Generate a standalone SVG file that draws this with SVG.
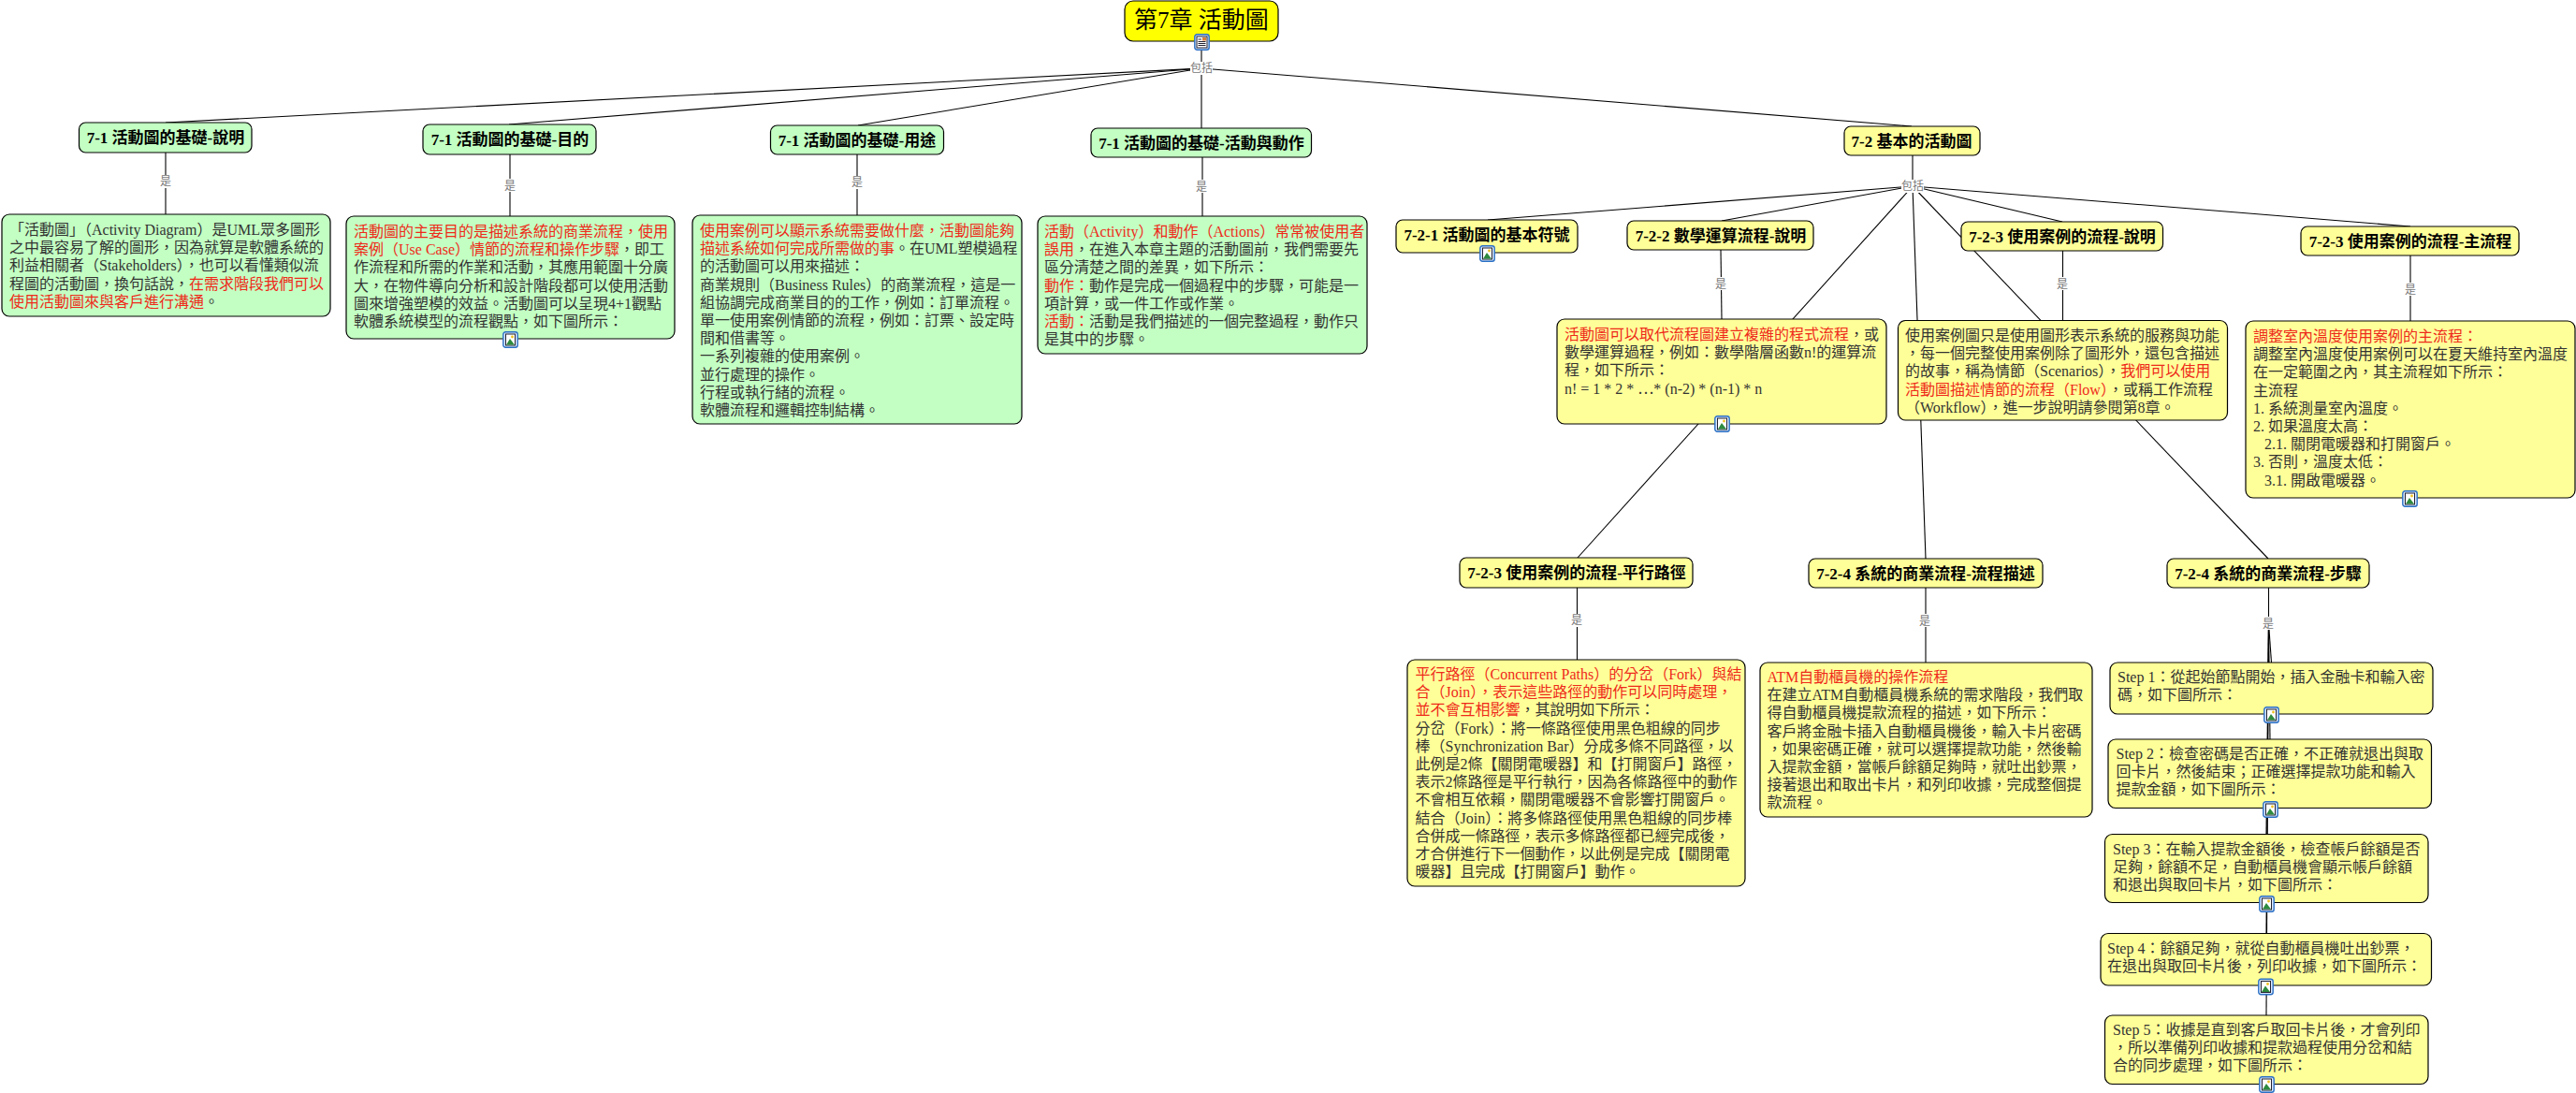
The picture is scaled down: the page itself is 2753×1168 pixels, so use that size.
<svg xmlns="http://www.w3.org/2000/svg" width="2753" height="1168" viewBox="0 0 2753 1168">
<style>
text{font-family:"Liberation Serif","Noto Sans CJK TC",serif}
.box{stroke:#000;stroke-width:1.2}
.g{fill:#c3ffc3}.y{fill:#ffff99}.m{fill:#ffff00}
.t{font-size:17px;font-weight:bold;fill:#000;text-anchor:middle}
.mt{font-size:25px;fill:#000;text-anchor:middle}
.b{font-size:16px;fill:#333}
.r{fill:#ee2a1a}
.c line{stroke:#000;stroke-width:1.1}
.lb{fill:#fff}
.l{font-size:12px;fill:#777;text-anchor:middle}
</style>
<defs>
<g id="pic">
<rect x="0.8" y="0.8" width="15.4" height="16.4" rx="2.5" fill="#dbe9fb" stroke="#2a6fc4" stroke-width="1.4"/>
<rect x="3.500" y="3" width="10" height="12" fill="#fff" stroke="#223"/>
<path d="M4 14.500 L8 8 L13 14.500Z" fill="#2d8a3e"/>
<circle cx="10.500" cy="6" r="1.400" fill="#f0c020"/>
</g>
<g id="doc">
<rect x="0.8" y="0.8" width="15.4" height="16.4" rx="2.5" fill="#dbe9fb" stroke="#2a6fc4" stroke-width="1.4"/>
<rect x="3" y="3" width="11" height="12" fill="#fff" stroke="#223"/>
<path d="M4.500 6H8M4.500 8.500H12.500M4.500 10.500H12.500M4.500 12.500H12.500" stroke="#223" stroke-width="1"/>
<rect x="9" y="4" width="4" height="3.500" fill="#d9803a"/>
</g>
</defs>
<g id="connectors" class="c">
<line x1="1284" y1="45" x2="1284" y2="137"/>
<line x1="1284" y1="73" x2="177" y2="131"/>
<line x1="1284" y1="73" x2="544" y2="133"/>
<line x1="1284" y1="73" x2="917" y2="134"/>
<line x1="1284" y1="73" x2="2043" y2="135"/>
<line x1="177" y1="163" x2="177" y2="229"/>
<line x1="545" y1="165" x2="545" y2="231"/>
<line x1="916" y1="165" x2="916" y2="230"/>
<line x1="1285" y1="168" x2="1285" y2="231"/>
<line x1="2044" y1="166" x2="2044" y2="199"/>
<line x1="2044" y1="199" x2="1590" y2="235"/>
<line x1="2044" y1="199" x2="1840" y2="236"/>
<line x1="2044" y1="199" x2="1686" y2="596"/>
<line x1="2044" y1="199" x2="2058" y2="597"/>
<line x1="2044" y1="199" x2="2424" y2="597"/>
<line x1="2044" y1="199" x2="2204" y2="237"/>
<line x1="2044" y1="199" x2="2576" y2="242"/>
<line x1="1839" y1="267" x2="1840" y2="341"/>
<line x1="2204.500" y1="268" x2="2204.500" y2="343"/>
<line x1="2576" y1="273" x2="2576" y2="343"/>
<line x1="1685.500" y1="628" x2="1685.500" y2="705"/>
<line x1="2058" y1="628" x2="2058" y2="708"/>
<line x1="2424.500" y1="628" x2="2424.500" y2="666"/>
<line x1="2424.500" y1="666" x2="2427.500" y2="708"/>
<line x1="2424.500" y1="666" x2="2426" y2="790"/>
<line x1="2424.500" y1="666" x2="2422" y2="891"/>
<line x1="2424.500" y1="666" x2="2422" y2="998"/>
<line x1="2424.500" y1="666" x2="2422" y2="1085"/>
<g id="edge-labels">
<rect class="lb" x="1272" y="66" width="24" height="14"/><text class="l" x="1284" y="77">包括</text>
<rect class="lb" x="171" y="187" width="12" height="14"/><text class="l" x="177" y="198">是</text>
<rect class="lb" x="539" y="191" width="12" height="14"/><text class="l" x="545" y="203">是</text>
<rect class="lb" x="910" y="188" width="12" height="14"/><text class="l" x="916" y="199">是</text>
<rect class="lb" x="1279" y="192" width="12" height="14"/><text class="l" x="1284" y="204">是</text>
<rect class="lb" x="2032" y="192" width="24" height="14"/><text class="l" x="2044" y="203">包括</text>
<rect class="lb" x="1833" y="296" width="12" height="14"/><text class="l" x="1839" y="308">是</text>
<rect class="lb" x="2198" y="296" width="12" height="14"/><text class="l" x="2204" y="308">是</text>
<rect class="lb" x="2570" y="302" width="12" height="14"/><text class="l" x="2576" y="314">是</text>
<rect class="lb" x="1679" y="656" width="12" height="14"/><text class="l" x="1685" y="667">是</text>
<rect class="lb" x="2051" y="656" width="12" height="14"/><text class="l" x="2057" y="668">是</text>
<rect class="lb" x="2418" y="659" width="12" height="14"/><text class="l" x="2424" y="671">是</text>
</g>
</g>
<g id="n-main"><rect class="box m" x="1202" y="1" width="164" height="43" rx="9"/><text class="mt" x="1284" y="30">第7章 活動圖</text><use href="#doc" x="1276" y="36"/></g>
<g id="n71a"><rect class="box g" x="84.500" y="131" width="184.500" height="32" rx="7"/><text class="t" x="177" y="153">7-1 活動圖的基礎-說明</text></g>
<g id="n71b"><rect class="box g" x="452" y="133" width="185" height="32" rx="7"/><text class="t" x="545" y="155">7-1 活動圖的基礎-目的</text></g>
<g id="n71c"><rect class="box g" x="823.500" y="134" width="185" height="31" rx="7"/><text class="t" x="916" y="156">7-1 活動圖的基礎-用途</text></g>
<g id="n71d"><rect class="box g" x="1166" y="137" width="235.500" height="31" rx="7"/><text class="t" x="1284" y="159">7-1 活動圖的基礎-活動與動作</text></g>
<g id="n72"><rect class="box y" x="1971" y="135" width="145" height="31" rx="7"/><text class="t" x="2043" y="157">7-2 基本的活動圖</text></g>
<g id="n721"><rect class="box y" x="1492" y="235" width="194" height="35" rx="7"/><text class="t" x="1589" y="257">7-2-1 活動圖的基本符號</text><use href="#pic" x="1581" y="262"/></g>
<g id="n722"><rect class="box y" x="1739" y="236" width="199" height="31" rx="7"/><text class="t" x="1839" y="258">7-2-2 數學運算流程-說明</text></g>
<g id="n723a"><rect class="box y" x="2096" y="237" width="215.500" height="31" rx="7"/><text class="t" x="2204" y="259">7-2-3 使用案例的流程-說明</text></g>
<g id="n723b"><rect class="box y" x="2459" y="242" width="233" height="31" rx="7"/><text class="t" x="2576" y="264">7-2-3 使用案例的流程-主流程</text></g>
<g id="n723c"><rect class="box y" x="1560" y="596" width="249" height="32" rx="7"/><text class="t" x="1685" y="618">7-2-3 使用案例的流程-平行路徑</text></g>
<g id="n724a"><rect class="box y" x="1933" y="597" width="250" height="31" rx="7"/><text class="t" x="2058" y="619">7-2-4 系統的商業流程-流程描述</text></g>
<g id="n724b"><rect class="box y" x="2316" y="597" width="216" height="31" rx="7"/><text class="t" x="2424" y="619">7-2-4 系統的商業流程-步驟</text></g>

<g id="d71a"><rect class="box g" x="2" y="229" width="351" height="109" rx="8"/>
<text class="b" x="10" y="251">「活動圖」（Activity Diagram）是UML眾多圖形<tspan x="10" dy="19.2">之中最容易了解的圖形，因為就算是軟體系統的</tspan><tspan x="10" dy="19.2">利益相關者（Stakeholders），也可以看懂類似流</tspan><tspan x="10" dy="19.2">程圖的活動圖，換句話說，<tspan class="r">在需求階段我們可以</tspan></tspan><tspan x="10" dy="19.2"><tspan class="r">使用活動圖來與客戶進行溝通</tspan>。</tspan></text></g>
<g id="d71b"><rect class="box g" x="370" y="231" width="351" height="131" rx="8"/>
<text class="b" x="378" y="253"><tspan class="r">活動圖的主要目的是描述系統的商業流程，使用</tspan><tspan x="378" dy="19.2"><tspan class="r">案例（Use Case）情節的流程和操作步驟</tspan>，即工</tspan><tspan x="378" dy="19.2">作流程和所需的作業和活動，其應用範圍十分廣</tspan><tspan x="378" dy="19.2">大，在物件導向分析和設計階段都可以使用活動</tspan><tspan x="378" dy="19.2">圖來增強塑模的效益。活動圖可以呈現4+1觀點</tspan><tspan x="378" dy="19.2">軟體系統模型的流程觀點，如下圖所示：</tspan></text><use href="#pic" x="537" y="354"/></g>
<g id="d71c"><rect class="box g" x="740" y="230" width="352" height="223" rx="8"/>
<text class="b" x="748" y="252"><tspan class="r">使用案例可以顯示系統需要做什麼，活動圖能夠</tspan><tspan x="748" dy="19.2"><tspan class="r">描述系統如何完成所需做的事</tspan>。在UML塑模過程</tspan><tspan x="748" dy="19.2">的活動圖可以用來描述：</tspan><tspan x="748" dy="19.2">商業規則（Business Rules）的商業流程，這是一</tspan><tspan x="748" dy="19.2">組協調完成商業目的的工作，例如：訂單流程。</tspan><tspan x="748" dy="19.2">單一使用案例情節的流程，例如：訂票、設定時</tspan><tspan x="748" dy="19.2">間和借書等。</tspan><tspan x="748" dy="19.2">一系列複雜的使用案例。</tspan><tspan x="748" dy="19.2">並行處理的操作。</tspan><tspan x="748" dy="19.2">行程或執行緒的流程。</tspan><tspan x="748" dy="19.2">軟體流程和邏輯控制結構。</tspan></text></g>
<g id="d71d"><rect class="box g" x="1109" y="231" width="352" height="147" rx="8"/>
<text class="b" x="1116" y="253"><tspan class="r">活動（Activity）和動作（Actions）常常被使用者</tspan><tspan x="1116" dy="19.2"><tspan class="r">誤用</tspan>，在進入本章主題的活動圖前，我們需要先</tspan><tspan x="1116" dy="19.2">區分清楚之間的差異，如下所示：</tspan><tspan x="1116" dy="19.2"><tspan class="r">動作：</tspan>動作是完成一個過程中的步驟，可能是一</tspan><tspan x="1116" dy="19.2">項計算，或一件工作或作業。</tspan><tspan x="1116" dy="19.2"><tspan class="r">活動：</tspan>活動是我們描述的一個完整過程，動作只</tspan><tspan x="1116" dy="19.2">是其中的步驟。</tspan></text></g>
<g id="d722"><rect class="box y" x="1664" y="341" width="352" height="112" rx="8"/>
<text class="b" x="1672" y="363"><tspan class="r">活動圖可以取代流程圖建立複雜的程式流程</tspan>，或<tspan x="1672" dy="19.2">數學運算過程，例如：數學階層函數n!的運算流</tspan><tspan x="1672" dy="19.2">程，如下所示：</tspan><tspan x="1672" dy="19.2">n! = 1 * 2 * <tspan style="font-family:'Noto Sans CJK TC',sans-serif">…</tspan>* (n-2) * (n-1) * n</tspan></text><use href="#pic" x="1832" y="444"/></g>
<g id="d723a"><rect class="box y" x="2028.500" y="342.500" width="352" height="106.500" rx="8"/>
<text class="b" x="2036" y="364"><tspan>使用案例圖只是使用圖形表示系統的服務與功能</tspan><tspan x="2036" dy="19.2">，每一個完整使用案例除了圖形外，還包含描述</tspan><tspan x="2036" dy="19.2">的故事，稱為情節（Scenarios），<tspan class="r">我們可以使用</tspan></tspan><tspan x="2036" dy="19.2"><tspan class="r">活動圖描述情節的流程（Flow）</tspan>，或稱工作流程</tspan><tspan x="2036" dy="19.2">（Workflow），進一步說明請參閱第8章。</tspan></text></g>
<g id="d723b"><rect class="box y" x="2400" y="343" width="352" height="189" rx="8"/>
<text class="b" x="2408" y="365"><tspan class="r">調整室內溫度使用案例的主流程：</tspan><tspan x="2408" dy="19.2">調整室內溫度使用案例可以在夏天維持室內溫度</tspan><tspan x="2408" dy="19.2">在一定範圍之內，其主流程如下所示：</tspan><tspan x="2408" dy="19.2">主流程</tspan><tspan x="2408" dy="19.2">1. 系統測量室內溫度。</tspan><tspan x="2408" dy="19.2">2. 如果溫度太高：</tspan><tspan x="2420" dy="19.2">2.1. 關閉電暖器和打開窗戶。</tspan><tspan x="2408" dy="19.2">3. 否則，溫度太低：</tspan><tspan x="2420" dy="19.2">3.1. 開啟電暖器。</tspan></text><use href="#pic" x="2567" y="524"/></g>
<g id="d723c"><rect class="box y" x="1504" y="705" width="361" height="242" rx="8"/>
<text class="b" x="1512.500" y="726"><tspan class="r">平行路徑（Concurrent Paths）的分岔（Fork）與結</tspan><tspan x="1512.500" dy="19.2"><tspan class="r">合（Join），表示這些路徑的動作可以同時處理，</tspan></tspan><tspan x="1512.500" dy="19.2"><tspan class="r">並不會互相影響</tspan>，其說明如下所示：</tspan><tspan x="1512.500" dy="19.2">分岔（Fork）：將一條路徑使用黑色粗線的同步</tspan><tspan x="1512.500" dy="19.2">棒（Synchronization Bar）分成多條不同路徑，以</tspan><tspan x="1512.500" dy="19.2">此例是2條【關閉電暖器】和【打開窗戶】路徑，</tspan><tspan x="1512.500" dy="19.2">表示2條路徑是平行執行，因為各條路徑中的動作</tspan><tspan x="1512.500" dy="19.2">不會相互依賴，關閉電暖器不會影響打開窗戶。</tspan><tspan x="1512.500" dy="19.2">結合（Join）：將多條路徑使用黑色粗線的同步棒</tspan><tspan x="1512.500" dy="19.2">合併成一條路徑，表示多條路徑都已經完成後，</tspan><tspan x="1512.500" dy="19.2">才合併進行下一個動作，以此例是完成【關閉電</tspan><tspan x="1512.500" dy="19.2">暖器】且完成【打開窗戶】動作。</tspan></text></g>
<g id="d724a"><rect class="box y" x="1881" y="708" width="355" height="165" rx="8"/>
<text class="b" x="1888.500" y="729"><tspan class="r">ATM自動櫃員機的操作流程</tspan><tspan x="1888.500" dy="19.2">在建立ATM自動櫃員機系統的需求階段，我們取</tspan><tspan x="1888.500" dy="19.2">得自動櫃員機提款流程的描述，如下所示：</tspan><tspan x="1888.500" dy="19.2">客戶將金融卡插入自動櫃員機後，輸入卡片密碼</tspan><tspan x="1888.500" dy="19.2">，如果密碼正確，就可以選擇提款功能，然後輸</tspan><tspan x="1888.500" dy="19.2">入提款金額，當帳戶餘額足夠時，就吐出鈔票，</tspan><tspan x="1888.500" dy="19.2">接著退出和取出卡片，和列印收據，完成整個提</tspan><tspan x="1888.500" dy="19.2">款流程。</tspan></text></g>
<g id="s1"><rect class="box y" x="2255" y="708" width="345" height="55" rx="8"/>
<text class="b" x="2263" y="729">Step 1：從起始節點開始，插入金融卡和輸入密<tspan x="2263" dy="19.2">碼，如下圖所示：</tspan></text><use href="#pic" x="2419" y="755"/></g>
<g id="s2"><rect class="box y" x="2253" y="790" width="345.500" height="73.500" rx="8"/>
<text class="b" x="2261.500" y="811">Step 2：檢查密碼是否正確，不正確就退出與取<tspan x="2261.500" dy="19.2">回卡片，然後結束；正確選擇提款功能和輸入</tspan><tspan x="2261.500" dy="19.2">提款金額，如下圖所示：</tspan></text><use href="#pic" x="2418" y="856"/></g>
<g id="s3"><rect class="box y" x="2249.500" y="891.500" width="345.500" height="73" rx="8"/>
<text class="b" x="2258" y="912.500">Step 3：在輸入提款金額後，檢查帳戶餘額是否<tspan x="2258" dy="19.2">足夠，餘額不足，自動櫃員機會顯示帳戶餘額</tspan><tspan x="2258" dy="19.2">和退出與取回卡片，如下圖所示：</tspan></text><use href="#pic" x="2414" y="957"/></g>
<g id="s4"><rect class="box y" x="2245" y="997.500" width="353.500" height="55.500" rx="8"/>
<text class="b" x="2252" y="1019">Step 4：餘額足夠，就從自動櫃員機吐出鈔票，<tspan x="2252" dy="19.2">在退出與取回卡片後，列印收據，如下圖所示：</tspan></text><use href="#pic" x="2413" y="1045.500"/></g>
<g id="s5"><rect class="box y" x="2249.500" y="1085" width="345.500" height="73.500" rx="8"/>
<text class="b" x="2258" y="1106">Step 5：收據是直到客戶取回卡片後，才會列印<tspan x="2258" dy="19.2">，所以準備列印收據和提款過程使用分岔和結</tspan><tspan x="2258" dy="19.2">合的同步處理，如下圖所示：</tspan></text><use href="#pic" x="2414" y="1150"/></g>
</svg>
